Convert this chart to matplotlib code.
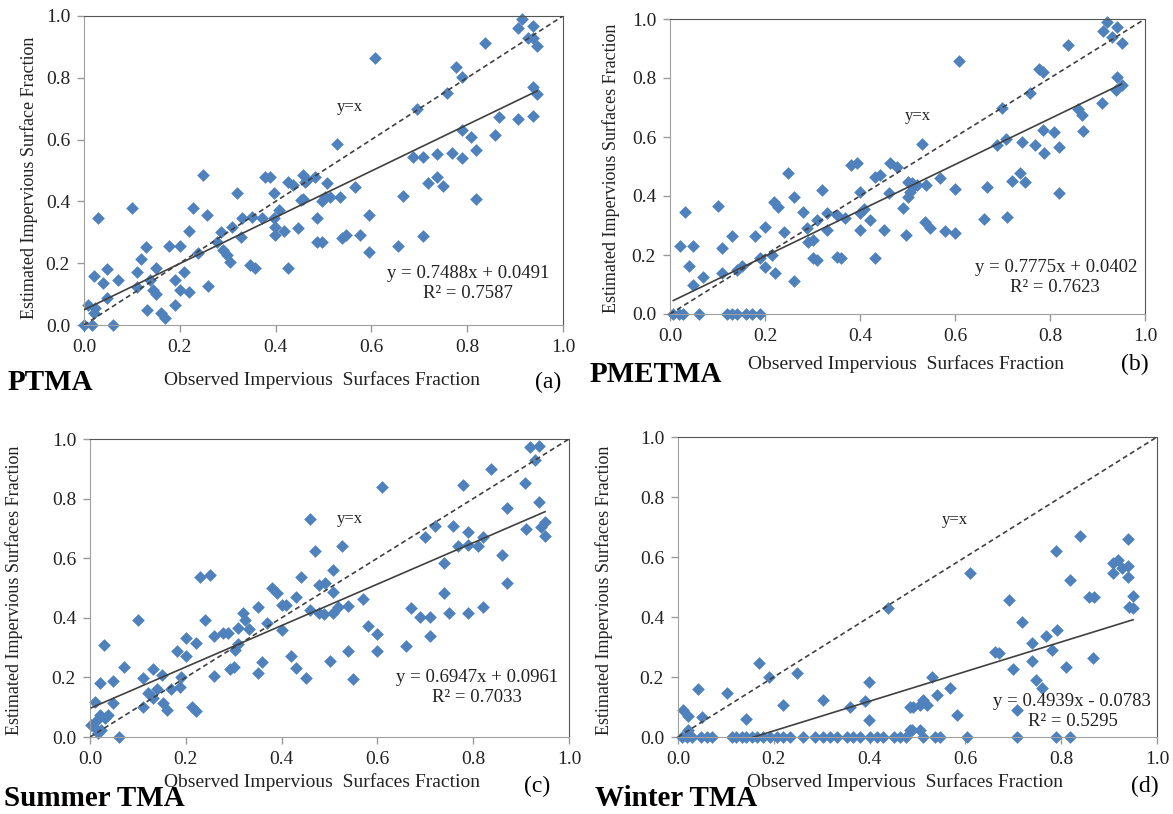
import matplotlib.pyplot as plt

plt.rcParams['font.family'] = ['Liberation Serif', 'DejaVu Serif']

# (a) PTMA
xa = [0.0, 0.016, 0.06, 0.009, 0.02, 0.023, 0.03, 0.02, 0.039, 0.049, 0.047, 0.07, 0.1, 0.11, 0.11,
      0.118, 0.13, 0.131, 0.138, 0.145, 0.15, 0.15, 0.16, 0.17, 0.178, 0.19, 0.19, 0.2, 0.2, 0.209,
      0.219, 0.219, 0.228, 0.239, 0.248, 0.256, 0.258, 0.277, 0.287, 0.29, 0.298, 0.305, 0.308, 0.319,
      0.327, 0.329, 0.346, 0.357, 0.35, 0.371, 0.378, 0.388, 0.396, 0.396, 0.399, 0.408, 0.399, 0.418,
      0.426, 0.426, 0.437, 0.447, 0.457, 0.458, 0.465, 0.486, 0.486, 0.461, 0.482, 0.454, 0.507, 0.496,
      0.503, 0.514, 0.535, 0.566, 0.528, 0.496, 0.538, 0.548, 0.576, 0.596, 0.596, 0.607, 0.655, 0.667,
      0.686, 0.708, 0.695, 0.708, 0.719, 0.737, 0.737, 0.749, 0.757, 0.768, 0.777, 0.789, 0.789, 0.789,
      0.808, 0.818, 0.818, 0.837, 0.858, 0.867, 0.907, 0.915, 0.937, 0.927, 0.937, 0.946, 0.907, 0.937,
      0.937, 0.946]
ya = [0.0, 0.0, 0.0, 0.065, 0.04, 0.054, 0.345, 0.16, 0.135, 0.18, 0.086, 0.146, 0.38, 0.173, 0.124,
      0.213, 0.253, 0.049, 0.146, 0.113, 0.183, 0.1, 0.038, 0.022, 0.256, 0.146, 0.065, 0.256, 0.113, 0.173,
      0.305, 0.108, 0.378, 0.232, 0.485, 0.356, 0.126, 0.27, 0.302, 0.243, 0.227, 0.205, 0.318, 0.428,
      0.286, 0.345, 0.194, 0.183, 0.35, 0.345, 0.478, 0.48, 0.426, 0.345, 0.291, 0.372, 0.318, 0.304,
      0.183, 0.464, 0.453, 0.313, 0.407, 0.485, 0.469, 0.345, 0.27, 0.464, 0.48, 0.405, 0.458, 0.4,
      0.415, 0.415, 0.415, 0.448, 0.586, 0.27, 0.28, 0.291, 0.291, 0.356, 0.237, 0.863, 0.256, 0.417,
      0.545, 0.545, 0.698, 0.288, 0.458, 0.553, 0.48, 0.45, 0.75, 0.556, 0.836, 0.804, 0.539, 0.631,
      0.61, 0.566, 0.407, 0.912, 0.615, 0.672, 0.96, 0.989, 0.968, 0.928, 0.928, 0.903, 0.666, 0.676,
      0.769, 0.748]

# (b) PMETMA
xb = [0.007, 0.018, 0.028, 0.06, 0.119, 0.13, 0.14, 0.161, 0.172, 0.189, 0.021, 0.049, 0.032, 0.04,
      0.049, 0.07, 0.1, 0.109, 0.109, 0.13, 0.14, 0.151, 0.179, 0.189, 0.2, 0.2, 0.214, 0.218, 0.228,
      0.221, 0.239, 0.249, 0.26, 0.26, 0.279, 0.288, 0.291, 0.3, 0.302, 0.309, 0.309, 0.319, 0.33, 0.33,
      0.351, 0.361, 0.351, 0.368, 0.382, 0.393, 0.4, 0.4, 0.4, 0.408, 0.42, 0.432, 0.432, 0.442, 0.45,
      0.461, 0.463, 0.477, 0.49, 0.497, 0.5, 0.502, 0.509, 0.512, 0.505, 0.519, 0.53, 0.539, 0.537,
      0.547, 0.568, 0.579, 0.6, 0.6, 0.609, 0.66, 0.668, 0.688, 0.698, 0.707, 0.709, 0.72, 0.737, 0.74,
      0.747, 0.758, 0.769, 0.776, 0.786, 0.786, 0.787, 0.808, 0.818, 0.818, 0.838, 0.859, 0.868, 0.869,
      0.909, 0.911, 0.919, 0.94, 0.93, 0.951, 0.94, 0.939, 0.951]
yb = [0.0, 0.0, 0.0, 0.0, 0.0, 0.0, 0.0, 0.0, 0.0, 0.0, 0.23, 0.23, 0.347, 0.163,
      0.1, 0.124, 0.366, 0.223, 0.14, 0.264, 0.149, 0.163, 0.264, 0.189, 0.296, 0.16, 0.2, 0.381, 0.364,
      0.14, 0.279, 0.477, 0.398, 0.112, 0.347, 0.293, 0.245, 0.251, 0.189, 0.183, 0.319, 0.42, 0.285, 0.344,
      0.194, 0.189, 0.336, 0.324, 0.505, 0.511, 0.415, 0.341, 0.285, 0.355, 0.319, 0.189, 0.466, 0.471, 0.285,
      0.409, 0.511, 0.499, 0.358, 0.268, 0.398, 0.449, 0.445, 0.432, 0.415, 0.437, 0.576, 0.437, 0.313,
      0.29, 0.46, 0.281, 0.423, 0.276, 0.859, 0.321, 0.432, 0.573, 0.697, 0.592, 0.33, 0.452, 0.477, 0.584,
      0.449, 0.75, 0.573, 0.829, 0.821, 0.624, 0.547, 0.617, 0.565, 0.409, 0.912, 0.694, 0.675, 0.62,
      0.714, 0.96, 0.991, 0.974, 0.94, 0.92, 0.805, 0.759, 0.776]

# (c) Summer TMA
xc = [0.003, 0.01, 0.017, 0.024, 0.014, 0.021, 0.031, 0.038, 0.01, 0.021, 0.03, 0.049, 0.049, 0.061,
      0.071, 0.101, 0.11, 0.11, 0.122, 0.131, 0.132, 0.14, 0.15, 0.153, 0.16, 0.17, 0.181, 0.188, 0.191,
      0.2, 0.2, 0.212, 0.221, 0.221, 0.23, 0.25, 0.24, 0.259, 0.259, 0.278, 0.289, 0.292, 0.301, 0.303,
      0.31, 0.31, 0.319, 0.323, 0.331, 0.351, 0.351, 0.36, 0.369, 0.379, 0.39, 0.4, 0.4, 0.41, 0.42,
      0.43, 0.43, 0.44, 0.451, 0.459, 0.459, 0.47, 0.479, 0.479, 0.49, 0.489, 0.5, 0.508, 0.508, 0.508,
      0.518, 0.527, 0.539, 0.539, 0.549, 0.57, 0.581, 0.6, 0.6, 0.609, 0.66, 0.67, 0.689, 0.71, 0.7,
      0.71, 0.72, 0.738, 0.738, 0.75, 0.758, 0.769, 0.778, 0.79, 0.79, 0.79, 0.81, 0.82, 0.82, 0.838,
      0.86, 0.87, 0.87, 0.908, 0.91, 0.919, 0.938, 0.929, 0.938, 0.941, 0.95, 0.95]
yc = [0.04, 0.029, 0.012, 0.023, 0.057, 0.074, 0.063, 0.074, 0.119, 0.18, 0.309, 0.189, 0.115, 0.0,
      0.236, 0.393, 0.197, 0.102, 0.149, 0.227, 0.13, 0.16, 0.208, 0.113, 0.091, 0.16, 0.29, 0.169, 0.2,
      0.272, 0.331, 0.102, 0.088, 0.314, 0.538, 0.544, 0.393, 0.339, 0.205, 0.348, 0.348, 0.227, 0.236,
      0.292, 0.312, 0.365, 0.415, 0.393, 0.361, 0.437, 0.214, 0.253, 0.381, 0.499, 0.482, 0.443, 0.359,
      0.443, 0.272, 0.23, 0.471, 0.538, 0.197, 0.73, 0.426, 0.624, 0.51, 0.415, 0.516, 0.413, 0.256,
      0.56, 0.488, 0.417, 0.437, 0.641, 0.44, 0.29, 0.194, 0.462, 0.372, 0.345, 0.29, 0.838, 0.305,
      0.432, 0.404, 0.404, 0.672, 0.339, 0.708, 0.585, 0.484, 0.415, 0.708, 0.641, 0.846, 0.689, 0.415,
      0.644, 0.641, 0.67, 0.437, 0.898, 0.611, 0.767, 0.516, 0.851, 0.697, 0.972, 0.977, 0.93, 0.79,
      0.704, 0.723, 0.675]

# (d) Winter TMA
xd = [0.008, 0.018, 0.029, 0.011, 0.021, 0.021, 0.042, 0.051, 0.049, 0.06, 0.07, 0.102, 0.142, 0.112,
      0.122, 0.133, 0.143, 0.154, 0.164, 0.17, 0.191, 0.22, 0.248, 0.178, 0.192, 0.206, 0.22, 0.234,
      0.262, 0.286, 0.303, 0.317, 0.331, 0.352, 0.366, 0.38, 0.401, 0.415, 0.429, 0.45, 0.464, 0.477,
      0.302, 0.36, 0.39, 0.399, 0.399, 0.439, 0.484, 0.484, 0.53, 0.54, 0.568, 0.491, 0.505, 0.512,
      0.519, 0.582, 0.61, 0.488, 0.505, 0.512, 0.537, 0.547, 0.603, 0.707, 0.79, 0.818, 0.662, 0.671,
      0.69, 0.7, 0.708, 0.719, 0.739, 0.74, 0.747, 0.759, 0.768, 0.78, 0.791, 0.789, 0.81, 0.818, 0.839,
      0.858, 0.868, 0.867, 0.909, 0.919, 0.909, 0.926, 0.94, 0.94, 0.94, 0.95, 0.942, 0.95]
yd = [0.0, 0.0, 0.0, 0.09, 0.07, 0.023, 0.159, 0.068, 0.0, 0.0, 0.0, 0.148, 0.059, 0.0,
      0.0, 0.0, 0.0, 0.0, 0.0, 0.246, 0.199, 0.107, 0.212, 0.0, 0.0, 0.0, 0.0, 0.0,
      0.0, 0.0, 0.0, 0.0, 0.0, 0.0, 0.0, 0.0, 0.0, 0.0, 0.0, 0.0, 0.0, 0.0,
      0.123, 0.101, 0.121, 0.184, 0.057, 0.429, 0.101, 0.023, 0.201, 0.14, 0.162, 0.101, 0.107, 0.123,
      0.107, 0.073, 0.548, 0.023, 0.023, 0.0, 0.0, 0.0, 0.0, 0.0, 0.0, 0.0, 0.284, 0.279,
      0.457, 0.226, 0.09, 0.384, 0.312, 0.254, 0.19, 0.162, 0.337, 0.29, 0.357, 0.621, 0.234, 0.523, 0.67,
      0.468, 0.468, 0.262, 0.581, 0.59, 0.546, 0.562, 0.57, 0.534, 0.659, 0.47, 0.434, 0.429]

panels = [
    dict(x=xa, y=ya, slope=0.7488, icpt=0.0491, eq='y = 0.7488x + 0.0491', r2='R² = 0.7587',
         name='PTMA', tag='(a)', ylab='Estimated Impervious Surface Fraction',
         box=(84, 563, 16, 325), yx=(350, 107), eqpos=(549, 273, 468, 293),
         namepos=(8, 382), tagpos=(548, 382), xlabpos=(322, 380), ylabpos=(29, 178)),
    dict(x=xb, y=yb, slope=0.7775, icpt=0.0402, eq='y = 0.7775x + 0.0402', r2='R² = 0.7623',
         name='PMETMA', tag='(b)', ylab='Estimated Impervious Surfaces Fraction',
         box=(670, 1145, 19, 314), yx=(918, 116), eqpos=(1137, 267, 1055, 288),
         namepos=(590, 374), tagpos=(1135, 364), xlabpos=(906, 364), ylabpos=(611, 168)),
    dict(x=xc, y=yc, slope=0.6947, icpt=0.0961, eq='y = 0.6947x + 0.0961', r2='R² = 0.7033',
         name='Summer TMA', tag='(c)', ylab='Estimated Impervious Surfaces Fraction',
         box=(90, 569, 439, 737), yx=(350, 519), eqpos=(558, 677, 477, 698),
         namepos=(4, 798), tagpos=(537, 786), xlabpos=(322, 782), ylabpos=(14, 590)),
    dict(x=xd, y=yd, slope=0.4939, icpt=-0.0783, eq='y = 0.4939x - 0.0783', r2='R² = 0.5295',
         name='Winter TMA', tag='(d)', ylab='Estimated Impervious Surfaces Fraction',
         box=(678, 1157, 437, 737), yx=(955, 520), eqpos=(1151, 702, 1073, 722),
         namepos=(595, 798), tagpos=(1145, 786), xlabpos=(905, 782), ylabpos=(604, 590)),
]

W, H = 1173, 814
fig = plt.figure(figsize=(W / 100, H / 100), dpi=100)


def fx(px):
    return px / W


def fy(py):
    return 1 - py / H


for p in panels:
    l, r, t, b = p['box']
    ax = fig.add_axes([fx(l), fy(b), (r - l) / W, (b - t) / H])
    ax.scatter(p['x'], p['y'], marker='D', s=42, color='#4F81BD', linewidths=0, zorder=2, clip_on=False)
    ax.plot([0, 1], [0, 1], color='#404040', lw=1.2, ls=(0, (3, 2)), zorder=3)
    x0, x1 = min(p['x']), max(p['x'])
    ax.plot([x0, x1], [p['slope'] * x0 + p['icpt'], p['slope'] * x1 + p['icpt']],
            color='#404040', lw=1.2, zorder=3)
    ax.set_xlim(0, 1)
    ax.set_ylim(0, 1)
    ax.set_xticks([0, 0.2, 0.4, 0.6, 0.8, 1.0])
    ax.set_yticks([0, 0.2, 0.4, 0.6, 0.8, 1.0])
    ax.xaxis.set_major_formatter(plt.FormatStrFormatter('%.1f'))
    ax.yaxis.set_major_formatter(plt.FormatStrFormatter('%.1f'))
    ax.tick_params(direction='out', length=5, width=1, color='#999999', labelsize=14, pad=5,
                   labelcolor='#222222')
    for side in ['left', 'bottom']:
        ax.spines[side].set_color('#a0a0a0')
    for side in ['top', 'right']:
        ax.spines[side].set_color('#555555')

    fig.text(fx(p['yx'][0]), fy(p['yx'][1]), 'y=x', fontsize=12, ha='center', va='center', color='#222222')
    fig.text(fx(p['eqpos'][0]), fy(p['eqpos'][1]), p['eq'], fontsize=13.5, ha='right', va='center',
             color='#222222')
    fig.text(fx(p['eqpos'][2]), fy(p['eqpos'][3]), p['r2'], fontsize=13.5, ha='center', va='center',
             color='#222222')
    fig.text(fx(p['namepos'][0]), fy(p['namepos'][1]), p['name'], fontsize=21, fontweight='bold',
             ha='left', va='center', color='black')
    fig.text(fx(p['tagpos'][0]), fy(p['tagpos'][1]), p['tag'], fontsize=17, ha='center', va='center',
             color='black')
    fig.text(fx(p['xlabpos'][0]), fy(p['xlabpos'][1]), 'Observed Impervious  Surfaces Fraction',
             fontsize=14, ha='center', va='center', color='#222222')
    fig.text(fx(p['ylabpos'][0]), fy(p['ylabpos'][1]), p['ylab'], fontsize=13, rotation=90,
             ha='center', va='center', color='#222222')

fig.savefig('out.png', dpi=100)
